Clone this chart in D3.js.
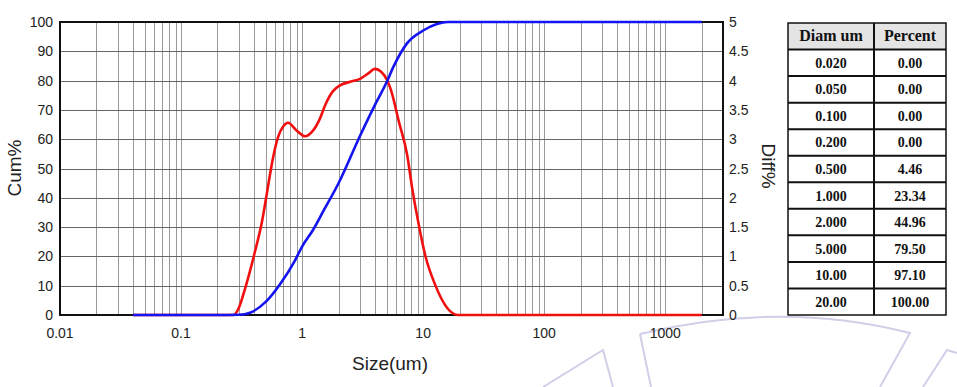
<!DOCTYPE html>
<html lang="en">
  <head>
    <meta charset="UTF-8" />
    <title>Particle size distribution</title>
    <style>
      body { margin: 0; background: #fff; }
      svg { display: block; }
      .tick-label { font-family: 'Liberation Sans', Arial, sans-serif; font-size: 14px; fill: #222; }
      .axis-title { font-family: 'Liberation Sans', Arial, sans-serif; font-size: 19px; fill: #222; }
      .cell { font-family: 'Liberation Serif', 'Times New Roman', serif; font-weight: bold; font-size: 14px; fill: #111; }
      .head { font-size: 16px; }
    </style>
  </head>
  <body>
    <script src="https://d3js.org/d3.v7.min.js"></script>
    <script>
      // Cumulative curve (Cum%, left axis)
      const cumSize = [0.04, 0.2, 0.3, 0.372, 0.5, 0.657, 0.87, 1, 1.23, 1.5, 2, 3, 4, 5, 5.65, 7.38, 10, 13, 16, 20, 2000];
      const cumPct = [0, 0, 0.1, 0.8, 4.46, 10.5, 18.5, 23.34, 29, 35.5, 44.96, 61, 71.7, 79.5, 84.5, 92.8, 97.1, 99.3, 100, 100, 100];

      // Differential curve (Diff%, right axis)
      const diffSize = [0.04, 0.27, 0.3, 0.338, 0.41, 0.467, 0.514, 0.565, 0.634, 0.7, 0.766, 0.9, 1.06, 1.2, 1.41, 1.55, 1.8, 2.06, 2.5, 3.01, 3.5, 4.01, 4.5, 5.03, 5.4, 6.3, 7.38, 8.11, 9.1, 10.4, 12.6, 15.8, 19.5, 2000];
      const diffPct = [0, 0, 0.12, 0.45, 1.1, 1.6, 2.1, 2.6, 3.04, 3.22, 3.28, 3.15, 3.05, 3.12, 3.36, 3.58, 3.82, 3.92, 3.98, 4.03, 4.12, 4.2, 4.15, 4.01, 3.85, 3.3, 2.73, 2.17, 1.59, 1.02, 0.51, 0.12, 0, 0];

      // Tick labels
      const xTicks = [0.01, 0.1, 1, 10, 100, 1000];
      const xTickLabels = ['0.01', '0.1', '1', '10', '100', '1000'];
      const cumTicks = [0, 10, 20, 30, 40, 50, 60, 70, 80, 90, 100];
      const diffTicks = [0, 0.5, 1, 1.5, 2, 2.5, 3, 3.5, 4, 4.5, 5];

      // Table on the right
      const tableHeader = ['Diam um', 'Percent'];
      const tableDiam = ['0.020', '0.050', '0.100', '0.200', '0.500', '1.000', '2.000', '5.000', '10.00', '20.00'];
      const tablePercent = ['0.00', '0.00', '0.00', '0.00', '4.46', '23.34', '44.96', '79.50', '97.10', '100.00'];

      const width = 957;
      const height = 387;
      const plot = { left: 60, right: 723, top: 22, bottom: 315 };

      const svg = d3.select('body').append('svg')
        .attr('width', width)
        .attr('height', height);

      // faint watermark behind everything
      const wm = svg.append('g')
        .attr('fill', 'none')
        .attr('stroke', '#cfcfe9')
        .attr('stroke-width', 2);
      wm.append('path').attr('d', 'M640,334 Q780,300 910,333 L880,387');
      wm.append('path').attr('d', 'M640,334 L651,387');
      wm.append('path').attr('d', 'M543,387 L603,350 L613,387');
      wm.append('path').attr('d', 'M923,387 L947,350 L957,353');

      const xScale = d3.scaleLog()
        .domain([0.01, 3000])
        .range([plot.left, plot.right]);

      const yCum = d3.scaleLinear()
        .domain([0, 100])
        .range([plot.bottom, plot.top]);

      const yDiff = d3.scaleLinear()
        .domain([0, 5])
        .range([plot.bottom, plot.top]);

      // Vertical grid: decades and 2..9 in between
      const vGrid = [];
      for (let e = -2; e <= 3; e++) {
        for (let m = 1; m <= 9; m++) {
          const v = m * Math.pow(10, e);
          if (v > 0.01 && v < 3000) vGrid.push(v);
        }
      }
      svg.append('g')
        .selectAll('line')
        .data(vGrid)
        .join('line')
        .attr('x1', (d) => Math.round(xScale(d)) + 0.5)
        .attr('x2', (d) => Math.round(xScale(d)) + 0.5)
        .attr('y1', plot.top)
        .attr('y2', plot.bottom)
        .attr('stroke', '#9a9a9a')
        .attr('stroke-width', 1);

      // Horizontal grid
      svg.append('g')
        .selectAll('line')
        .data(cumTicks.slice(1, -1))
        .join('line')
        .attr('x1', plot.left)
        .attr('x2', plot.right)
        .attr('y1', (d) => Math.round(yCum(d)) + 0.5)
        .attr('y2', (d) => Math.round(yCum(d)) + 0.5)
        .attr('stroke', '#666')
        .attr('stroke-width', 1);

      // Frame
      svg.append('rect')
        .attr('x', plot.left)
        .attr('y', plot.top)
        .attr('width', plot.right - plot.left)
        .attr('height', plot.bottom - plot.top)
        .attr('fill', 'none')
        .attr('stroke', '#111')
        .attr('stroke-width', 2);

      // Curves
      const cumLine = d3.line()
        .x((d) => xScale(d[0]))
        .y((d) => yCum(d[1]))
        .curve(d3.curveMonotoneX);

      const diffLine = d3.line()
        .x((d) => xScale(d[0]))
        .y((d) => yDiff(d[1]))
        .curve(d3.curveMonotoneX);

      svg.append('path')
        .datum(diffSize.map((s, i) => [s, diffPct[i]]))
        .attr('d', diffLine)
        .attr('fill', 'none')
        .attr('stroke', '#f01010')
        .attr('stroke-width', 2.6);

      svg.append('path')
        .datum(cumSize.map((s, i) => [s, cumPct[i]]))
        .attr('d', cumLine)
        .attr('fill', 'none')
        .attr('stroke', '#1414f0')
        .attr('stroke-width', 2.6);

      // Tick labels
      svg.append('g')
        .selectAll('text')
        .data(cumTicks)
        .join('text')
        .attr('class', 'tick-label')
        .attr('x', 53)
        .attr('y', (d) => yCum(d) + 5)
        .attr('text-anchor', 'end')
        .text((d) => d);

      svg.append('g')
        .selectAll('text')
        .data(diffTicks)
        .join('text')
        .attr('class', 'tick-label')
        .attr('x', 729)
        .attr('y', (d) => yDiff(d) + 5)
        .text((d) => d);

      svg.append('g')
        .selectAll('text')
        .data(xTicks)
        .join('text')
        .attr('class', 'tick-label')
        .attr('x', (d) => xScale(d))
        .attr('y', 338)
        .attr('text-anchor', 'middle')
        .text((d, i) => xTickLabels[i]);

      // Axis titles
      svg.append('text')
        .attr('class', 'axis-title')
        .attr('transform', 'translate(21,168) rotate(-90)')
        .attr('text-anchor', 'middle')
        .text('Cum%');

      svg.append('text')
        .attr('class', 'axis-title')
        .attr('transform', 'translate(762,166) rotate(90)')
        .attr('text-anchor', 'middle')
        .text('Diff%');

      svg.append('text')
        .attr('class', 'axis-title')
        .attr('x', 390)
        .attr('y', 370)
        .attr('text-anchor', 'middle')
        .text('Size(um)');

      // Table
      const rows = [tableHeader].concat(tableDiam.map((d, i) => [d, tablePercent[i]]));
      const tbl = { left: 788, mid: 874, right: 946, top: 23, bottom: 315 };
      const rowScale = d3.scaleBand()
        .domain(d3.range(rows.length))
        .range([tbl.top, tbl.bottom]);

      const tg = svg.append('g');
      tg.append('rect')
        .attr('x', tbl.left)
        .attr('y', tbl.top)
        .attr('width', tbl.right - tbl.left)
        .attr('height', rowScale.bandwidth())
        .attr('fill', '#e4e4e4');

      tg.selectAll('line.row')
        .data(d3.range(1, rows.length))
        .join('line')
        .attr('class', 'row')
        .attr('x1', tbl.left)
        .attr('x2', tbl.right)
        .attr('y1', (d) => rowScale(d))
        .attr('y2', (d) => rowScale(d))
        .attr('stroke', '#111')
        .attr('stroke-width', 2);

      tg.append('line')
        .attr('x1', tbl.mid)
        .attr('x2', tbl.mid)
        .attr('y1', tbl.top)
        .attr('y2', tbl.bottom)
        .attr('stroke', '#111')
        .attr('stroke-width', 2);

      tg.append('rect')
        .attr('x', tbl.left)
        .attr('y', tbl.top)
        .attr('width', tbl.right - tbl.left)
        .attr('height', tbl.bottom - tbl.top)
        .attr('fill', 'none')
        .attr('stroke', '#111')
        .attr('stroke-width', 1.5);

      rows.forEach((r, i) => {
        const cy = rowScale(i) + rowScale.bandwidth() / 2 + 5;
        const cls = i === 0 ? 'cell head' : 'cell';
        tg.append('text')
          .attr('class', cls)
          .attr('x', (tbl.left + tbl.mid) / 2)
          .attr('y', cy)
          .attr('text-anchor', 'middle')
          .text(r[0]);
        tg.append('text')
          .attr('class', cls)
          .attr('x', (tbl.mid + tbl.right) / 2)
          .attr('y', cy)
          .attr('text-anchor', 'middle')
          .text(r[1]);
      });
    </script>
  </body>
</html>
